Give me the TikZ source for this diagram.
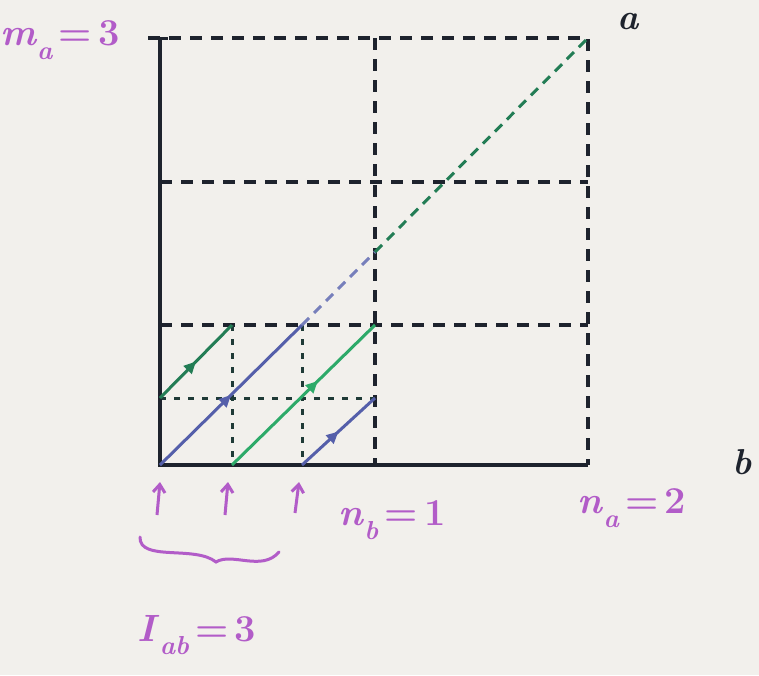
\documentclass[tikz,border=0pt]{standalone}
\usetikzlibrary{decorations.markings,arrows.meta}
\definecolor{ink}{RGB}{30,35,45}
\definecolor{bl}{RGB}{85,95,170}
\definecolor{gr}{RGB}{45,170,105}
\definecolor{dgr}{RGB}{35,125,85}
\definecolor{lbl}{RGB}{178,92,200}
\definecolor{paper}{RGB}{242,240,236}
\newcommand{\subx}[1]{\raisebox{-0.35em}{\fontsize{26}{30}\selectfont\bfseries\itshape #1}}
\tikzset{
 axisline/.style={ink, line width=4pt},
 gridline/.style={ink, line width=3.5pt, dash pattern=on 12pt off 9pt},
 dotline/.style={ink!75!dgr, line width=3pt, dash pattern=on 6pt off 8pt},
 wline/.style={line width=3pt, postaction={decorate},
   decoration={markings, mark=at position #1 with {\arrow{Triangle[length=12pt,width=11pt]}}}},
 wline/.default=0.5,
 dline/.style={line width=3pt, dash pattern=on 10pt off 7pt},
 lab/.style={lbl, font=\fontsize{38}{46}\selectfont\bfseries, inner sep=0pt},
 blk/.style={ink, font=\fontsize{36}{44}\selectfont\bfseries\itshape, inner sep=0pt},
 uparr/.style={lbl, line width=3pt, -{Straight Barb[length=8pt,width=12pt]}},
}
\begin{document}
\begin{tikzpicture}[x=1pt,y=-1pt]
\fill[paper] (0,0) rectangle (759,675);
\useasboundingbox (0,0) rectangle (759,675);
% key points
\coordinate (O) at (160,465);
\coordinate (TL) at (160,38);
\coordinate (TLt) at (148,38);
\coordinate (TR) at (588,38);
\coordinate (BR) at (588,465);
\coordinate (NBt) at (375,38);
\coordinate (NBb) at (375,465);
\coordinate (L2) at (160,182);
\coordinate (R2) at (588,182);
\coordinate (L1) at (160,325);
\coordinate (R1) at (588,325);
\coordinate (Lh) at (160,398);
\coordinate (Rh) at (375,398);
\coordinate (D1t) at (232,325);
\coordinate (D1b) at (232,465);
\coordinate (D2t) at (302,325);
\coordinate (D2b) at (302,465);
\coordinate (C1) at (375,325);
\coordinate (M) at (375,252);
% grid
\draw[gridline] (TLt) -- (TR) -- (BR);
\draw[gridline] (NBt) -- (NBb);
\draw[gridline] (L2) -- (R2);
\draw[gridline] (L1) -- (R1);
\draw[dotline] (Lh) -- (Rh);
\draw[dotline] (D1t) -- (D1b);
\draw[dotline] (D2t) -- (D2b);
% axes
\draw[axisline] (TL) -- (O) -- (BR);
\draw[ink, line width=3pt] (TLt) -- (168,38);
% wrapped lines
\draw[wline, bl] (O) -- (D2t);
\draw[wline, dgr] (Lh) -- (D1t);
\draw[wline=0.6, gr] (D1b) -- (C1);
\draw[wline, bl] (D2b) -- (Rh);
\draw[dline, bl!80] (D2t) -- (M);
\draw[dline, dgr] (M) -- (TR);
% labels
\node[lab] (ma) at (60,40) {\textit{m}\subx{a}\,=\,3};
\node[lab] (nb) at (392,520) {\textit{n}\subx{b}\,=\,1};
\node[lab] (na) at (632,508) {\textit{n}\subx{a}\,=\,2};
\node[lab] (iab) at (197,635) {\textit{I}\subx{ab}\,=\,3};
\node[blk] (a) at (628,22) {a};
\node[blk] (b) at (742,462) {b};
% upward arrows
\coordinate (u1s) at (157,515); \coordinate (u1e) at (160,482);
\coordinate (u2s) at (225,515); \coordinate (u2e) at (228,482);
\coordinate (u3s) at (295,513); \coordinate (u3e) at (299,482);
\draw[uparr] (u1s) -- (u1e);
\draw[uparr] (u2s) -- (u2e);
\draw[uparr] (u3s) -- (u3e);
% wavy brace
\draw[lbl, line width=3pt, line cap=round] (140,537) .. controls (139,562) and (195,545) .. (216,562)
  .. controls (232,552) and (262,572) .. (279,552);
\end{tikzpicture}
\end{document}
